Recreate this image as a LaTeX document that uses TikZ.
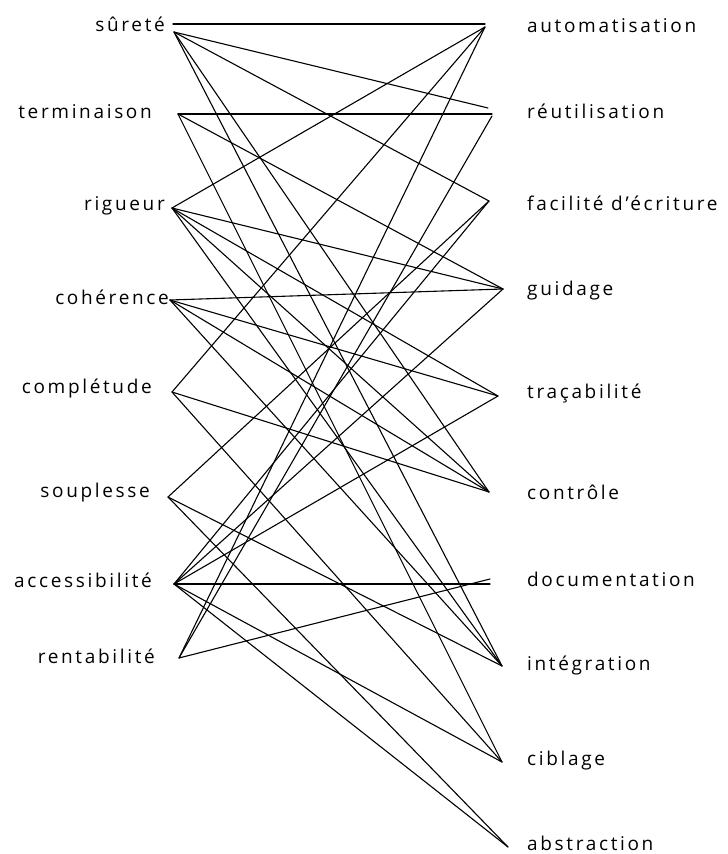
\documentclass[tikz,border=0pt]{standalone}
\usepackage{fontspec}
\setmainfont{Open Sans}[LetterSpace=14]
\begin{document}
\begin{tikzpicture}[x=1pt,y=-1pt,
  lab/.style={font=\fontsize{19}{22}\selectfont, inner sep=0pt},
  llab/.style={lab, anchor=east},
  rlab/.style={lab, anchor=west},
  edge/.style={line width=1.1pt, line cap=round, line join=round}]
\useasboundingbox (0,0) rectangle (728,854);
% left labels
\node[llab] (tsur) at (165,24) {sûreté};
\node[llab] (tter) at (152,112) {terminaison};
\node[llab] (trig) at (165,206) {rigueur};
\node[llab] (tcoh) at (169,297) {cohérence};
\node[llab] (tcom) at (152,388) {complétude};
\node[llab] (tsou) at (150,493) {souplesse};
\node[llab] (tacc) at (152,580) {accessibilité};
\node[llab] (tren) at (155,656) {rentabilité};
% right labels
\node[rlab] (taut) at (527,26) {automatisation};
\node[rlab] (treu) at (527,111) {réutilisation};
\node[rlab] (tfac) at (527,203) {facilité d’écriture};
\node[rlab] (tgui) at (527,291) {guidage};
\node[rlab] (ttra) at (527,393) {traçabilité};
\node[rlab] (tcon) at (527,492) {contrôle};
\node[rlab] (tdoc) at (527,579) {documentation};
\node[rlab] (tint) at (527,665) {intégration};
\node[rlab] (tcib) at (527,761) {ciblage};
\node[rlab] (tabs) at (527,843) {abstraction};
% left anchors
\coordinate (sur0) at (173,24);
\coordinate (sur) at (174,32);
\coordinate (ter) at (178,114);
\coordinate (rig) at (172,208);
\coordinate (coh) at (170,300);
\coordinate (com) at (172,392);
\coordinate (sou) at (168,497);
\coordinate (acc) at (174,584);
\coordinate (ren) at (179,658);
% right anchors
\coordinate (aut) at (485,27);
\coordinate (reu) at (488,108);
\coordinate (reu2) at (492,116);
\coordinate (fac) at (489,201);
\coordinate (gui) at (503,289);
\coordinate (tra) at (498,396);
\coordinate (con) at (489,492);
\coordinate (doc) at (490,579);
\coordinate (int) at (502,666);
\coordinate (cib) at (502,762);
\coordinate (abs) at (508,847);
% edges
\draw[edge] (sur0) -- (sur0-|aut);
\draw[edge] (sur) -- (reu);
\draw[edge] (sur) -- (fac);
\draw[edge] (sur) -- (con);
\draw[edge] (sur) -- (int);
\draw[edge] (ter) -- (ter-|reu2);
\draw[edge] (ter) -- (gui);
\draw[edge] (ter) -- (cib);
\draw[edge] (rig) -- (aut);
\draw[edge] (rig) -- (gui);
\draw[edge] (rig) -- (tra);
\draw[edge] (rig) -- (con);
\draw[edge] (rig) -- (int);
\draw[edge] (coh) -- (gui);
\draw[edge] (coh) -- (tra);
\draw[edge] (coh) -- (con);
\draw[edge] (coh) -- (int);
\draw[edge] (com) -- (aut);
\draw[edge] (com) -- (con);
\draw[edge] (com) -- (cib);
\draw[edge] (sou) -- (fac);
\draw[edge] (sou) -- (int);
\draw[edge] (sou) -- (abs);
\draw[edge] (acc) -- (fac);
\draw[edge] (acc) -- (gui);
\draw[edge] (acc) -- (tra);
\draw[edge] (acc) -- (acc-|doc);
\draw[edge] (acc) -- (cib);
\draw[edge] (acc) -- (abs);
\draw[edge] (ren) -- (aut);
\draw[edge] (ren) -- (reu2);
\draw[edge] (ren) -- (doc);
\end{tikzpicture}
\end{document}
